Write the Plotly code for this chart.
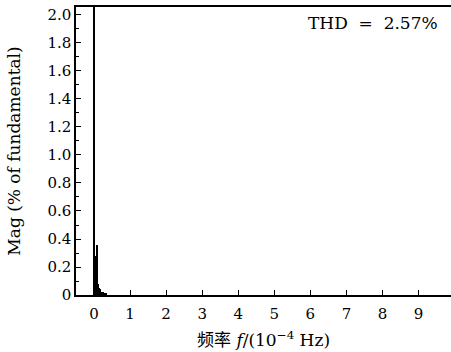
import plotly.graph_objects as go

# Harmonic spectrum (frequency in 1e-4 Hz, magnitude in % of fundamental)
freq = [0.0, 0.02, 0.03, 0.04, 0.05, 0.06, 0.07, 0.08, 0.09, 0.10, 0.11, 0.12,
        0.14, 0.16, 0.18, 0.20, 0.22, 0.25, 0.28, 0.31, 0.34]
mag = [100.0, 0.10, 0.28, 0.19, 0.17, 0.15, 0.16, 0.25, 0.36, 0.12, 0.08, 0.06,
       0.05, 0.04, 0.03, 0.025, 0.02, 0.02, 0.015, 0.012, 0.012]

y_ticks = [0, 0.2, 0.4, 0.6, 0.8, 1.0, 1.2, 1.4, 1.6, 1.8, 2.0]
y_labels = ["0", "0.2", "0.4", "0.6", "0.8", "1.0", "1.2", "1.4", "1.6", "1.8", "2.0"]
x_ticks = [0, 1, 2, 3, 4, 5, 6, 7, 8, 9]
thd_text = "THD&nbsp;&nbsp;=&nbsp;&nbsp;2.57%"

serif = "DejaVu Serif, Liberation Serif, serif"

fig = go.Figure()
fig.add_trace(go.Bar(
    x=freq, y=mag, width=0.02,
    marker=dict(color="black", line=dict(width=0)),
    showlegend=False,
))

fig.update_layout(
    width=451, height=352,
    margin=dict(l=76, r=0, t=7, b=57),
    paper_bgcolor="white", plot_bgcolor="white",
    font=dict(family=serif, size=15, color="black"),
    bargap=0,
    xaxis=dict(
        range=[-0.5, 9.9],
        tickvals=x_ticks,
        ticks="inside", ticklen=5, tickwidth=1, tickcolor="black",
        showline=True, linecolor="black", linewidth=1.5, mirror=True,
        showgrid=False, zeroline=False,
        tickfont=dict(size=15), ticklabelstandoff=4,
        title=dict(text="频率 <i>f</i>/(10<sup>−4</sup> Hz)", standoff=12,
                   font=dict(family="DejaVu Serif, Noto Sans CJK SC, serif", size=17)),
    ),
    yaxis=dict(
        range=[0, 2.057],
        tickvals=y_ticks, ticktext=y_labels,
        ticks="inside", ticklen=5, tickwidth=1, tickcolor="black",
        minor=dict(ticks="inside", dtick=0.1, ticklen=3, tickcolor="black"),
        showline=True, linecolor="black", linewidth=1.5, mirror=False,
        showgrid=False, zeroline=False,
        tickfont=dict(size=15),
        title=dict(text="Mag (% of fundamental)", standoff=22, font=dict(size=17)),
    ),
    annotations=[dict(
        text=thd_text, xref="paper", yref="paper", x=0.97, y=0.985,
        xanchor="right", yanchor="top", showarrow=False,
        font=dict(family=serif, size=17),
    )],
)

fig.write_html("out.html")
